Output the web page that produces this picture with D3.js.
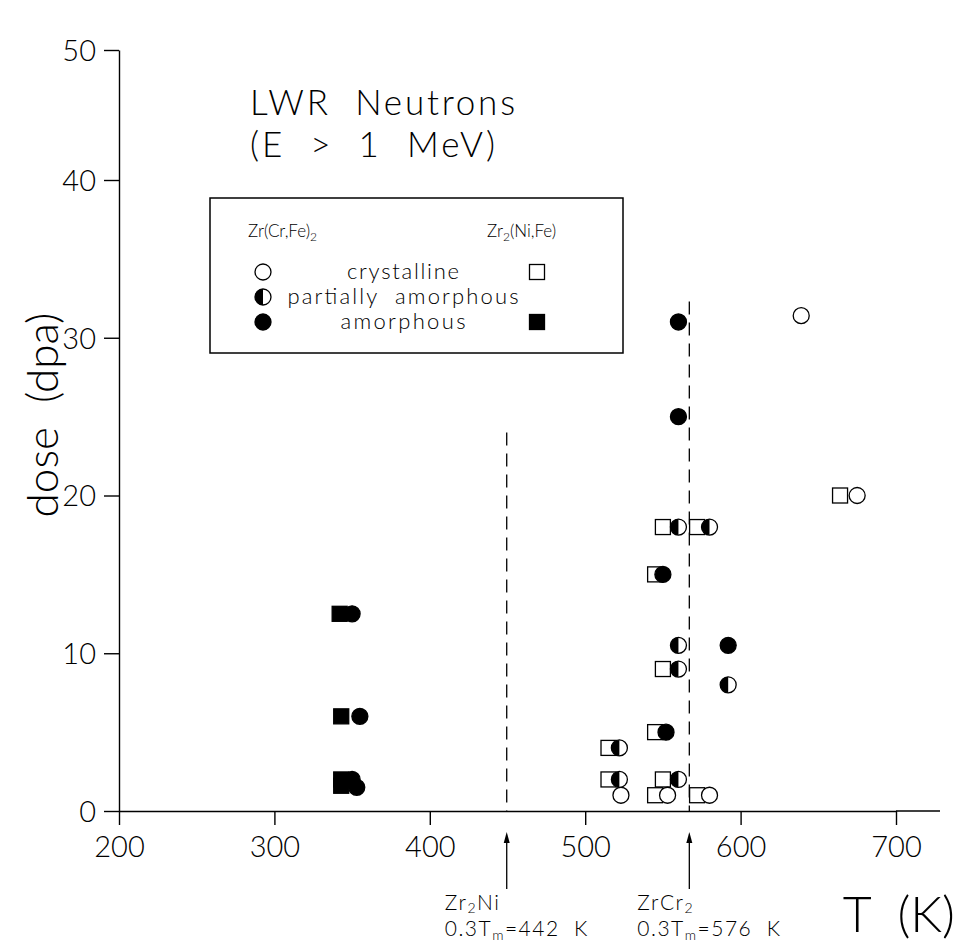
<!DOCTYPE html>
<html lang="en">
  <head>
    <meta charset="UTF-8" />
    <title>dose vs T</title>
    <script src="https://d3js.org/d3.v7.min.js"></script>
    <style>
      body { margin: 0; background: #fff; }
      svg { display: block; }
      text { font-family: Lato, "Open Sans", "DejaVu Sans", sans-serif; font-weight: 300; fill: #000; white-space: pre; }
    </style>
  </head>
  <body>
    <svg width="961" height="946"></svg>
    <script>
      // data
      const xTicks = [200, 300, 400, 500, 600, 700];
      const yTicks = [0, 10, 20, 30, 40, 50];
      const phases = ["crystalline", "partially amorphous", "amorphous"];
      const phaseWidth = [112, 231, 125];

      // Zr(Cr,Fe)2 -> circles ; phase index 0,1,2
      const zrCrFeT =     [639, 675, 523, 553, 580, 560, 580, 560, 560, 592, 522, 522, 560, 560, 560, 550, 592, 552, 350, 355, 350, 353];
      const zrCrFeDose =  [31.4, 20, 1.0, 1.0, 1.0, 18, 18, 10.5, 9, 8, 4, 2, 2, 31, 25, 15, 10.5, 5, 12.5, 6, 2, 1.5];
      const zrCrFePhase = [0, 0, 0, 0, 0, 1, 1, 1, 1, 1, 1, 1, 1, 2, 2, 2, 2, 2, 2, 2, 2, 2];

      // Zr2(Ni,Fe) -> squares
      const zr2NiFeT =     [664, 550, 572, 545, 550, 545, 515, 515, 550, 545, 572, 342, 343, 343, 343];
      const zr2NiFeDose =  [20, 18, 18, 15, 9, 5, 4, 2, 2, 1.0, 1.0, 12.5, 6, 2, 1.6];
      const zr2NiFePhase = [0, 0, 0, 0, 0, 0, 0, 0, 0, 0, 0, 2, 2, 2, 2];

      // 0.3 Tm markers
      const markerT = [449.5, 567];
      const markerTop = [24, 32.3];
      const markerName = [["Zr", "2", "Ni"], ["ZrCr", "2", ""]];
      const markerTm = [442, 576];

      const svg = d3.select("svg");
      const x = d3.scaleLinear().domain([200, 700]).range([119, 896]);
      const y = d3.scaleLinear().domain([0, 40, 50]).range([811, 180, 50]);

      // axes
      const xAxis = svg.append("g").attr("transform", "translate(0,811)")
        .call(d3.axisBottom(x).tickValues(xTicks).tickSize(14).tickPadding(6).tickSizeOuter(0));
      const yAxis = svg.append("g").attr("transform", "translate(119,0)")
        .call(d3.axisLeft(y).tickValues(yTicks).tickSize(15).tickPadding(8).tickSizeOuter(0));
      [xAxis, yAxis].forEach(g => {
        g.selectAll("path, line").attr("stroke", "#000").attr("stroke-width", 1.4);
        g.selectAll("text").style("font-family", "Lato, 'Open Sans', sans-serif")
          .style("font-weight", 300).attr("font-size", 29).attr("fill", "#000");
      });
      yAxis.selectAll("text").attr("dy", "0.36em");
      xAxis.selectAll("text").attr("dy", "0.9em");
      // axis line runs on past 700
      svg.append("line").attr("x1", x(700)).attr("x2", 940).attr("y1", 811).attr("y2", 811)
        .attr("stroke", "#000").attr("stroke-width", 1.4);

      // axis titles
      svg.append("text").attr("transform", "translate(58,415) rotate(-90)")
        .attr("text-anchor", "middle").attr("font-size", 44).text("dose  (dpa)");
      svg.append("text").attr("x", 955).attr("y", 932).attr("text-anchor", "end")
        .attr("font-size", 50).text("T  (K)");

      // title
      svg.append("text").attr("x", 250).attr("y", 115).attr("font-size", 35)
        .attr("textLength", 265).attr("lengthAdjust", "spacing").text("LWR  Neutrons");
      svg.append("text").attr("x", 250).attr("y", 157).attr("font-size", 35)
        .attr("textLength", 245).attr("lengthAdjust", "spacing").text("(E  >  1  MeV)");

      // 0.3Tm dashed lines and arrows
      markerT.forEach((t, i) => {
        svg.append("line").attr("x1", x(t)).attr("x2", x(t)).attr("y1", y(markerTop[i])).attr("y2", 811)
          .attr("stroke", "#000").attr("stroke-width", 1.3).attr("stroke-dasharray", "13,8");
        svg.append("line").attr("x1", x(t)).attr("x2", x(t)).attr("y1", 838).attr("y2", 889)
          .attr("stroke", "#000").attr("stroke-width", 1.3);
        svg.append("path").attr("d", `M${x(t)},832 L${x(t) - 3},843 L${x(t) + 3},843 Z`).attr("fill", "#000");
        const tx = x(t) - (i === 0 ? 62 : 52);
        const n = svg.append("text").attr("x", tx).attr("y", 910).attr("font-size", 21)
          .attr("letter-spacing", 1.5);
        n.append("tspan").text(markerName[i][0]);
        n.append("tspan").attr("font-size", 14).attr("dy", 3).text(markerName[i][1]);
        n.append("tspan").attr("dy", -3).text(markerName[i][2]);
        const m = svg.append("text").attr("x", tx).attr("y", 936).attr("font-size", 21)
          .attr("letter-spacing", 1.5);
        m.append("tspan").text("0.3T");
        m.append("tspan").attr("font-size", 14).attr("dy", 4).text("m");
        m.append("tspan").attr("dy", -4).text("=" + markerTm[i] + "  K");
      });

      // symbols
      const r = 8, s = 15;
      function drawSquare(g, cx, cy, phase) {
        g.append("rect").attr("x", cx - s / 2).attr("y", cy - s / 2).attr("width", s).attr("height", s)
          .attr("fill", phase === 2 ? "#000" : "#fff").attr("stroke", "#000").attr("stroke-width", 1.3);
      }
      function drawCircle(g, cx, cy, phase) {
        g.append("circle").attr("cx", cx).attr("cy", cy).attr("r", r)
          .attr("fill", phase === 2 ? "#000" : "#fff").attr("stroke", "#000").attr("stroke-width", 1.3);
        if (phase === 1) {
          g.append("path").attr("d", `M${cx},${cy - r} A${r},${r} 0 0 0 ${cx},${cy + r} Z`).attr("fill", "#000");
        }
      }

      const marks = svg.append("g");
      zr2NiFeT.forEach((t, i) => drawSquare(marks, x(t), y(zr2NiFeDose[i]), zr2NiFePhase[i]));
      zrCrFeT.forEach((t, i) => drawCircle(marks, x(t), y(zrCrFeDose[i]), zrCrFePhase[i]));

      // legend
      const leg = svg.append("g");
      leg.append("rect").attr("x", 210).attr("y", 198).attr("width", 413).attr("height", 155)
        .attr("fill", "none").attr("stroke", "#000").attr("stroke-width", 1.5);
      const h1 = leg.append("text").attr("x", 248).attr("y", 237).attr("font-size", 17);
      h1.append("tspan").text("Zr(Cr,Fe)");
      h1.append("tspan").attr("font-size", 12).attr("dy", 4).text("2");
      const h2 = leg.append("text").attr("x", 487).attr("y", 237).attr("font-size", 17);
      h2.append("tspan").text("Zr");
      h2.append("tspan").attr("font-size", 12).attr("dy", 4).text("2");
      h2.append("tspan").attr("dy", -4).text("(Ni,Fe)");
      const rowY = [272, 297, 322];
      phases.forEach((p, i) => {
        drawCircle(leg, 263, rowY[i], i);
        if (i !== 1) drawSquare(leg, 537, rowY[i], i);
        leg.append("text").attr("x", 403 - phaseWidth[i] / 2).attr("y", rowY[i] + 7)
          .attr("font-size", 22).attr("textLength", phaseWidth[i]).attr("lengthAdjust", "spacing")
          .text(p.replace(" ", "  "));
      });
    </script>
  </body>
</html>
